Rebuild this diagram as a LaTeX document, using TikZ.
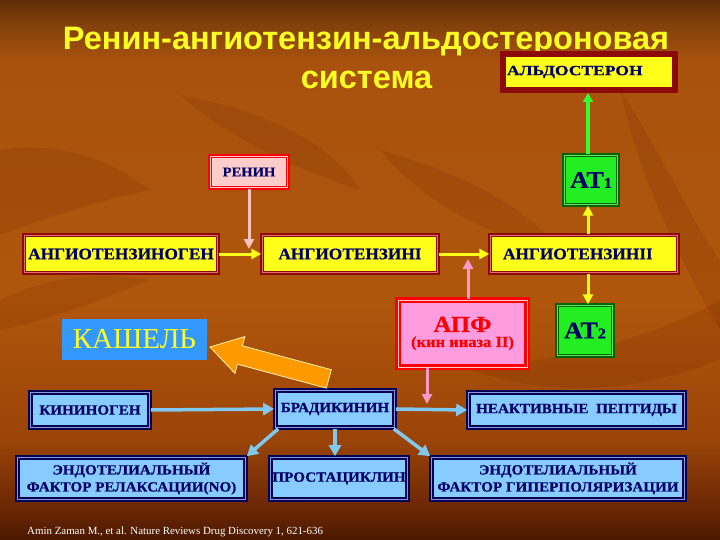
\documentclass[tikz,border=0pt]{standalone}
\usepackage{fontspec}
\setmainfont{Liberation Serif}
\newfontfamily\titlefont{Liberation Sans}
\newfontfamily\boxfont[FakeStretch=1.08, BoldFeatures={FakeBold=0.6}]{Liberation Serif}
\newfontfamily\widefont[FakeStretch=1.25, BoldFeatures={FakeBold=0.6}]{Liberation Serif}
\usetikzlibrary{arrows.meta}
\definecolor{bgA}{HTML}{4A1800}
\definecolor{bgB}{HTML}{6A2604}
\definecolor{bgC}{HTML}{9A4408}
\definecolor{bgD}{HTML}{B0560C}
\definecolor{bgE}{HTML}{A8520E}
\definecolor{bgF}{HTML}{7E3E0A}
\definecolor{bgG}{HTML}{5E2C08}
\pgfdeclareverticalshading{bgshade}{100bp}{color(0bp)=(bgA); color(25bp)=(bgA); color(27.8bp)=(bgB); color(34.3bp)=(bgC); color(47.2bp)=(bgD); color(69.4bp)=(bgE); color(73.1bp)=(bgF); color(75bp)=(bgG); color(100bp)=(bgG)}
\definecolor{cnavy}{HTML}{000066}
\definecolor{dred}{HTML}{8C0A0A}
\definecolor{lred}{HTML}{E07070}
\definecolor{yel}{HTML}{FFFF1A}
\definecolor{bred}{HTML}{FF0000}
\definecolor{lpink}{HTML}{FFCCCC}
\definecolor{apfpink}{HTML}{FF9CE0}
\definecolor{dgreen}{HTML}{006600}
\definecolor{lgreen}{HTML}{66DD66}
\definecolor{bgreen}{HTML}{22EE22}
\definecolor{lblue}{HTML}{88CCFF}
\definecolor{bnavy}{HTML}{000055}
\definecolor{mblue}{HTML}{8899DD}
\definecolor{coughblue}{HTML}{3399FF}
\definecolor{ttlyel}{HTML}{FFFF22}
\definecolor{arrblue}{HTML}{80C8F0}
\definecolor{arrpink}{HTML}{FF99CC}
\definecolor{arrlpink}{HTML}{FFC0C0}
\definecolor{arrgreen}{HTML}{33FF33}
\definecolor{orng}{HTML}{FF9900}
\definecolor{orngline}{HTML}{FFF0B0}
\definecolor{leafdark}{HTML}{5A1C00}
\tikzset{
  box/.style={rectangle, inner sep=0pt, font=\boxfont\bfseries, text=cnavy, line width=1.8pt},
  dbl/.style={double distance=0.8pt, double=#1},
  ybox/.style={box, draw=dred, dbl=lred, fill=yel, font=\boxfont\bfseries\fontsize{16}{18}\selectfont},
  rbox/.style={box, draw=bred, dbl=lpink, fill=lpink},
  gbox/.style={box, draw=dgreen, dbl=lgreen, fill=bgreen},
  bbox/.style={box, line width=2pt, draw=bnavy, dbl=mblue, fill=lblue, align=center,
    font=\boxfont\bfseries\fontsize{14}{17}\selectfont},
  yarrow/.style={draw=yel, line width=3pt, -{Triangle[length=10pt,width=10pt]}},
  parrow/.style={draw=arrpink, line width=3pt, -{Triangle[length=10pt,width=10pt]}},
  lparrow/.style={draw=arrlpink, line width=3pt, -{Triangle[length=10pt,width=10pt]}},
  garrow/.style={draw=arrgreen, line width=3.5pt, -{Triangle[length=9pt,width=10pt]}},
  barrow/.style={draw=arrblue, line width=3.5pt, -{Triangle[length=11pt,width=12pt]}},
  ttl/.style={font=\titlefont\bfseries\fontsize{32.5}{36}\selectfont, text=ttlyel, inner sep=0pt},
  leaf/.style={fill=leafdark, fill opacity=0.13, draw=none}
}
\begin{document}
\begin{tikzpicture}[x=1pt,y=-1pt]
\useasboundingbox (0,0) rectangle (720,540);
\shade[shading=bgshade] (0,0) rectangle (720,540);

% faint leaf texture of the background
\path[leaf] (0,150) .. controls (60,140) and (110,160) .. (150,190) .. controls (100,200) and (40,220) .. (0,235) -- cycle;
\path[leaf] (380,150) .. controls (450,170) and (520,200) .. (560,250) .. controls (500,240) and (430,210) .. (380,150) -- cycle;
\path[leaf] (0,300) .. controls (40,280) and (90,270) .. (150,280) .. controls (100,300) and (50,320) .. (0,330) -- cycle;
\path[leaf] (620,90) .. controls (660,150) and (690,220) .. (720,260) -- (720,330) .. controls (680,260) and (640,180) .. (620,90) -- cycle;
\path[leaf] (470,370) .. controls (560,360) and (650,340) .. (720,300) -- (720,360) .. controls (640,390) and (560,400) .. (470,370) -- cycle;
\path[leaf] (180,95) .. controls (260,110) and (330,140) .. (360,190) .. controls (300,170) and (230,140) .. (180,95) -- cycle;

% title
\node[ttl, anchor=base] (t1) at (366,50) {Ренин-ангиотензин-альдостероновая};
\node[ttl, anchor=base] (t2) at (366.5,89) {система};

% boxes
\node[box, draw=dred, line width=6pt, fill=yel, minimum width=172pt, minimum height=36pt,
  text width=164pt, align=left, font=\widefont\bfseries\fontsize{14}{16}\selectfont] (ald) at (589,72) {АЛЬДОСТЕРОН};
\node[rbox, minimum width=77.6pt, minimum height=31.6pt, font=\boxfont\bfseries\fontsize{13.5}{15}\selectfont] (renin) at (249,172) {РЕНИН};
\node[gbox, minimum width=53.6pt, minimum height=49.6pt, font=\boxfont\bfseries\fontsize{24}{26}\selectfont] (at1) at (591,180) {АТ{\fontsize{15}{15}\selectfont 1}};
\node[ybox, minimum width=193.6pt, minimum height=37.6pt] (ango) at (121,254) {АНГИОТЕНЗИНОГЕН};
\node[ybox, minimum width=175.6pt, minimum height=37.6pt] (ang1) at (350,254) {АНГИОТЕНЗИНI};
\node[ybox, minimum width=187.6pt, minimum height=37.6pt, text width=162pt, align=left] (ang2) at (584,254) {АНГИОТЕНЗИНII};
\node[box, draw=bred, dbl=lpink, line width=2.5pt, fill=apfpink, minimum width=129.2pt, minimum height=67.2pt,
  align=center, text=red] (apf) at (462.5,333.5) {{\fontsize{23}{25}\selectfont АПФ}\\[3pt]{\fontsize{15.3}{17}\selectfont (кин иназа II)}};
\node[gbox, minimum width=55.6pt, minimum height=50.6pt, font=\boxfont\bfseries\fontsize{24}{26}\selectfont] (at2) at (585,330.5) {АТ{\fontsize{15}{15}\selectfont 2}};
\node[rectangle, fill=coughblue, minimum width=145pt, minimum height=41pt, inner sep=0pt, text=ttlyel,
  font=\fontsize{29}{31}\selectfont] (cough) at (134.5,339.5) {КАШЕЛЬ};
\node[bbox, minimum width=119.6pt, minimum height=35.6pt] (kin) at (90,410) {КИНИНОГЕН};
\node[bbox, minimum width=119.6pt, minimum height=37.6pt] (brad) at (335,409) {БРАДИКИНИН};
\node[bbox, minimum width=216.6pt, minimum height=35.6pt] (inact) at (576.5,410) {НЕАКТИВНЫЕ\ \ ПЕПТИДЫ};
\node[bbox, minimum width=228.6pt, minimum height=42.6pt] (endo1) at (131.5,478.5) {ЭНДОТЕЛИАЛЬНЫЙ\\ФАКТОР РЕЛАКСАЦИИ(NO)};
\node[bbox, minimum width=137.6pt, minimum height=42.6pt] (prost) at (339,478.5) {ПРОСТАЦИКЛИН};
\node[bbox, minimum width=253.6pt, minimum height=42.6pt] (endo2) at (558,478.5) {ЭНДОТЕЛИАЛЬНЫЙ\\ФАКТОР ГИПЕРПОЛЯРИЗАЦИИ};

% footnote
\node[anchor=base west, inner sep=0pt, text=white, font=\fontsize{10.9}{13}\selectfont] (fn) at (27,534)
  {Amin Zaman M., et al. Nature Reviews Drug Discovery 1, 621-636};

% helper coordinates
\coordinate (vx) at (588,0);
\coordinate (rtip) at (0,249);
\coordinate (a1) at (468,259);
\coordinate (a2) at (427,404);

% connectors
\draw[garrow] (at1.north -| vx) -- (ald.south -| vx);
\draw[lparrow] (renin.south) -- (renin.south |- rtip);
\draw[yarrow] (ango.east) -- (ang1.west);
\draw[yarrow] (ang1.east) -- (ang2.west);
\draw[parrow] (a1 |- apf.north) -- (a1);
\draw[yarrow] (ang2.north -| vx) -- (at1.south -| vx);
\draw[yarrow] (ang2.south -| vx) -- (at2.north -| vx);
\draw[parrow] (a2 |- apf.south) -- (a2);
\draw[barrow] (kin.east) -- (brad.west);
\draw[barrow] (brad.east) -- (inact.west);
\draw[barrow] ([xshift=4pt]brad.south west) -- (endo1.north east);
\draw[barrow] (brad.south) -- (brad.south |- prost.north);
\draw[barrow] ([xshift=-2pt]brad.south east) -- (endo2.north west);

% orange block arrow towards cough
\draw[fill=orng, draw=orngline, line width=0.8pt, line join=miter]
  (210,347) -- (244.8,336.6) -- (242.4,345.8) -- (331.3,369.7) -- (326.3,388.1)
  -- (237.4,364.2) -- (235.0,373.4) -- cycle;
\end{tikzpicture}
\end{document}
